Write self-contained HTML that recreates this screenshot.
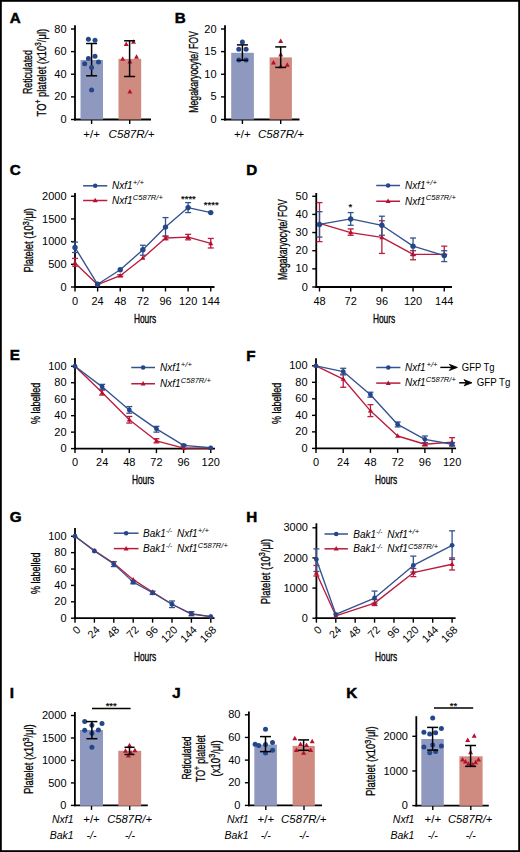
<!DOCTYPE html>
<html><head><meta charset="utf-8"><title>Figure</title>
<style>
html,body{margin:0;padding:0;background:#fff;}
body{width:520px;height:852px;overflow:hidden;position:relative;}
svg{position:absolute;left:0;top:0;font-family:"Liberation Sans", sans-serif;}
</style></head><body>
<svg width="520" height="852" viewBox="0 0 520 852">
<rect x="0" y="0" width="520" height="852" fill="#fff"/>
<text x="9.70" y="22.80" font-size="15.2" text-anchor="start" fill="#000" font-weight="bold" stroke="#000" stroke-width="0.5">A</text>
<line x1="75.00" y1="120.40" x2="75.00" y2="25.20" stroke="#000" stroke-width="1.8" stroke-linecap="butt"/>
<line x1="71.00" y1="119.50" x2="75.00" y2="119.50" stroke="#000" stroke-width="1.4" stroke-linecap="butt"/>
<text x="0.00" y="0.00" font-size="10.2" text-anchor="end" fill="#000"  transform="translate(66.60 123.10) scale(1.08 1)">0</text>
<line x1="71.00" y1="96.88" x2="75.00" y2="96.88" stroke="#000" stroke-width="1.4" stroke-linecap="butt"/>
<text x="0.00" y="0.00" font-size="10.2" text-anchor="end" fill="#000"  transform="translate(66.60 100.47) scale(1.08 1)">20</text>
<line x1="71.00" y1="74.25" x2="75.00" y2="74.25" stroke="#000" stroke-width="1.4" stroke-linecap="butt"/>
<text x="0.00" y="0.00" font-size="10.2" text-anchor="end" fill="#000"  transform="translate(66.60 77.85) scale(1.08 1)">40</text>
<line x1="71.00" y1="51.62" x2="75.00" y2="51.62" stroke="#000" stroke-width="1.4" stroke-linecap="butt"/>
<text x="0.00" y="0.00" font-size="10.2" text-anchor="end" fill="#000"  transform="translate(66.60 55.23) scale(1.08 1)">60</text>
<line x1="71.00" y1="29.00" x2="75.00" y2="29.00" stroke="#000" stroke-width="1.4" stroke-linecap="butt"/>
<text x="0.00" y="0.00" font-size="10.2" text-anchor="end" fill="#000"  transform="translate(66.60 32.60) scale(1.08 1)">80</text>
<line x1="74.10" y1="119.50" x2="151.00" y2="119.50" stroke="#000" stroke-width="1.8" stroke-linecap="butt"/>
<line x1="91.60" y1="119.50" x2="91.60" y2="124.00" stroke="#000" stroke-width="1.4" stroke-linecap="butt"/>
<line x1="129.70" y1="119.50" x2="129.70" y2="124.00" stroke="#000" stroke-width="1.4" stroke-linecap="butt"/>
<rect x="80.5" y="60" width="22.5" height="59.50" fill="#8f99bf"/>
<rect x="118.5" y="58.9" width="22.7" height="60.60" fill="#d08b80"/>
<line x1="91.60" y1="43.50" x2="91.60" y2="75.80" stroke="#000" stroke-width="1.5" stroke-linecap="butt"/>
<line x1="86.10" y1="43.50" x2="97.10" y2="43.50" stroke="#000" stroke-width="1.5" stroke-linecap="butt"/>
<line x1="86.10" y1="75.80" x2="97.10" y2="75.80" stroke="#000" stroke-width="1.5" stroke-linecap="butt"/>
<circle cx="88.40" cy="39.20" r="2.5" fill="#23478a"/>
<circle cx="95.00" cy="40.30" r="2.5" fill="#23478a"/>
<circle cx="88.40" cy="58.50" r="2.5" fill="#23478a"/>
<circle cx="95.00" cy="56.20" r="2.5" fill="#23478a"/>
<circle cx="84.70" cy="63.80" r="2.5" fill="#23478a"/>
<circle cx="98.50" cy="62.00" r="2.5" fill="#23478a"/>
<circle cx="91.60" cy="67.40" r="2.5" fill="#23478a"/>
<circle cx="91.60" cy="90.00" r="2.5" fill="#23478a"/>
<path d="M126.20 41.60 L128.70 46.10 L123.70 46.10 Z" fill="#b5102e"/>
<path d="M133.50 39.30 L136.00 43.80 L131.00 43.80 Z" fill="#b5102e"/>
<path d="M122.70 56.20 L125.20 60.70 L120.20 60.70 Z" fill="#b5102e"/>
<path d="M136.50 54.30 L139.00 58.80 L134.00 58.80 Z" fill="#b5102e"/>
<path d="M129.90 59.10 L132.40 63.60 L127.40 63.60 Z" fill="#b5102e"/>
<path d="M129.90 89.10 L132.40 93.60 L127.40 93.60 Z" fill="#b5102e"/>
<line x1="129.60" y1="40.80" x2="129.60" y2="76.50" stroke="#000" stroke-width="1.5" stroke-linecap="butt"/>
<line x1="124.10" y1="40.80" x2="135.10" y2="40.80" stroke="#000" stroke-width="1.5" stroke-linecap="butt"/>
<line x1="124.10" y1="76.50" x2="135.10" y2="76.50" stroke="#000" stroke-width="1.5" stroke-linecap="butt"/>
<text x="91.60" y="137.50" font-size="11.5" text-anchor="middle" fill="#000" >+/+</text>
<text x="108.60" y="137.50" font-size="10.5" text-anchor="start" fill="#000" font-style="italic" textLength="46.00" lengthAdjust="spacingAndGlyphs" >C587R/+</text>
<text x="0" y="0" font-size="13.5" text-anchor="middle" textLength="44.00" lengthAdjust="spacingAndGlyphs" stroke="#000" stroke-width="0.3" transform="translate(32.30 72.10) rotate(-90)">Reticulated</text>
<text x="0" y="0" font-size="13.3" text-anchor="middle" textLength="87.50" lengthAdjust="spacingAndGlyphs" stroke="#000" stroke-width="0.3" transform="translate(45.70 72.65) rotate(-90)">TO<tspan font-size="9.5" dy="-4.8">+</tspan><tspan dy="4.8"> platelet (x10</tspan><tspan font-size="9.5" dy="-4.8">3</tspan><tspan dy="4.8">/μl)</tspan></text>
<text x="174.70" y="22.80" font-size="15.2" text-anchor="start" fill="#000" font-weight="bold" stroke="#000" stroke-width="0.5">B</text>
<line x1="225.00" y1="120.40" x2="225.00" y2="25.20" stroke="#000" stroke-width="1.8" stroke-linecap="butt"/>
<line x1="221.00" y1="119.50" x2="225.00" y2="119.50" stroke="#000" stroke-width="1.4" stroke-linecap="butt"/>
<text x="0.00" y="0.00" font-size="10.2" text-anchor="end" fill="#000"  transform="translate(216.60 123.10) scale(1.08 1)">0</text>
<line x1="221.00" y1="96.88" x2="225.00" y2="96.88" stroke="#000" stroke-width="1.4" stroke-linecap="butt"/>
<text x="0.00" y="0.00" font-size="10.2" text-anchor="end" fill="#000"  transform="translate(216.60 100.47) scale(1.08 1)">5</text>
<line x1="221.00" y1="74.25" x2="225.00" y2="74.25" stroke="#000" stroke-width="1.4" stroke-linecap="butt"/>
<text x="0.00" y="0.00" font-size="10.2" text-anchor="end" fill="#000"  transform="translate(216.60 77.85) scale(1.08 1)">10</text>
<line x1="221.00" y1="51.62" x2="225.00" y2="51.62" stroke="#000" stroke-width="1.4" stroke-linecap="butt"/>
<text x="0.00" y="0.00" font-size="10.2" text-anchor="end" fill="#000"  transform="translate(216.60 55.23) scale(1.08 1)">15</text>
<line x1="221.00" y1="29.00" x2="225.00" y2="29.00" stroke="#000" stroke-width="1.4" stroke-linecap="butt"/>
<text x="0.00" y="0.00" font-size="10.2" text-anchor="end" fill="#000"  transform="translate(216.60 32.60) scale(1.08 1)">20</text>
<line x1="224.10" y1="119.50" x2="299.50" y2="119.50" stroke="#000" stroke-width="1.8" stroke-linecap="butt"/>
<line x1="242.40" y1="119.50" x2="242.40" y2="124.00" stroke="#000" stroke-width="1.4" stroke-linecap="butt"/>
<line x1="280.70" y1="119.50" x2="280.70" y2="124.00" stroke="#000" stroke-width="1.4" stroke-linecap="butt"/>
<rect x="231.2" y="52.8" width="22.7" height="66.70" fill="#8f99bf"/>
<rect x="269.6" y="57.4" width="22.3" height="62.10" fill="#d08b80"/>
<circle cx="242.40" cy="42.00" r="2.5" fill="#23478a"/>
<circle cx="238.80" cy="49.20" r="2.5" fill="#23478a"/>
<circle cx="246.10" cy="49.20" r="2.5" fill="#23478a"/>
<circle cx="238.80" cy="60.00" r="2.5" fill="#23478a"/>
<circle cx="246.10" cy="60.00" r="2.5" fill="#23478a"/>
<line x1="242.40" y1="44.90" x2="242.40" y2="60.30" stroke="#000" stroke-width="1.5" stroke-linecap="butt"/>
<line x1="236.90" y1="44.90" x2="247.90" y2="44.90" stroke="#000" stroke-width="1.5" stroke-linecap="butt"/>
<line x1="236.90" y1="60.30" x2="247.90" y2="60.30" stroke="#000" stroke-width="1.5" stroke-linecap="butt"/>
<path d="M280.70 38.50 L283.20 43.00 L278.20 43.00 Z" fill="#b5102e"/>
<path d="M280.70 51.90 L283.20 56.40 L278.20 56.40 Z" fill="#b5102e"/>
<path d="M273.50 59.90 L276.00 64.40 L271.00 64.40 Z" fill="#b5102e"/>
<path d="M287.30 62.30 L289.80 66.80 L284.80 66.80 Z" fill="#b5102e"/>
<path d="M280.70 63.80 L283.20 68.30 L278.20 68.30 Z" fill="#b5102e"/>
<line x1="280.70" y1="46.90" x2="280.70" y2="67.40" stroke="#000" stroke-width="1.5" stroke-linecap="butt"/>
<line x1="275.20" y1="46.90" x2="286.20" y2="46.90" stroke="#000" stroke-width="1.5" stroke-linecap="butt"/>
<line x1="275.20" y1="67.40" x2="286.20" y2="67.40" stroke="#000" stroke-width="1.5" stroke-linecap="butt"/>
<text x="242.40" y="137.50" font-size="11.5" text-anchor="middle" fill="#000" >+/+</text>
<text x="258.00" y="137.50" font-size="10.5" text-anchor="start" fill="#000" font-style="italic" textLength="46.00" lengthAdjust="spacingAndGlyphs" >C587R/+</text>
<text x="0" y="0" font-size="12.8" text-anchor="middle" textLength="81.50" lengthAdjust="spacingAndGlyphs" stroke="#000" stroke-width="0.3" transform="translate(197.60 71.95) rotate(-90)">Megakaryocyte/ FOV</text>
<text x="9.70" y="174.80" font-size="15.2" text-anchor="start" fill="#000" font-weight="bold" stroke="#000" stroke-width="0.5">C</text>
<line x1="75.00" y1="287.90" x2="75.00" y2="193.00" stroke="#000" stroke-width="1.8" stroke-linecap="butt"/>
<line x1="71.00" y1="287.00" x2="75.00" y2="287.00" stroke="#000" stroke-width="1.4" stroke-linecap="butt"/>
<text x="0.00" y="0.00" font-size="10.2" text-anchor="end" fill="#000"  transform="translate(66.60 290.60) scale(1.08 1)">0</text>
<line x1="71.00" y1="264.31" x2="75.00" y2="264.31" stroke="#000" stroke-width="1.4" stroke-linecap="butt"/>
<text x="0.00" y="0.00" font-size="10.2" text-anchor="end" fill="#000"  transform="translate(66.60 267.91) scale(1.08 1)">500</text>
<line x1="71.00" y1="241.62" x2="75.00" y2="241.62" stroke="#000" stroke-width="1.4" stroke-linecap="butt"/>
<text x="0.00" y="0.00" font-size="10.2" text-anchor="end" fill="#000"  transform="translate(66.60 245.22) scale(1.08 1)">1000</text>
<line x1="71.00" y1="218.94" x2="75.00" y2="218.94" stroke="#000" stroke-width="1.4" stroke-linecap="butt"/>
<text x="0.00" y="0.00" font-size="10.2" text-anchor="end" fill="#000"  transform="translate(66.60 222.54) scale(1.08 1)">1500</text>
<line x1="71.00" y1="196.25" x2="75.00" y2="196.25" stroke="#000" stroke-width="1.4" stroke-linecap="butt"/>
<text x="0.00" y="0.00" font-size="10.2" text-anchor="end" fill="#000"  transform="translate(66.60 199.85) scale(1.08 1)">2000</text>
<line x1="74.10" y1="287.00" x2="214.50" y2="287.00" stroke="#000" stroke-width="1.8" stroke-linecap="butt"/>
<line x1="75.00" y1="287.00" x2="75.00" y2="291.50" stroke="#000" stroke-width="1.4" stroke-linecap="butt"/>
<text x="0.00" y="0.00" font-size="10" text-anchor="middle" fill="#000"  transform="translate(75.00 304.50) scale(1.1 1)">0</text>
<line x1="97.62" y1="287.00" x2="97.62" y2="291.50" stroke="#000" stroke-width="1.4" stroke-linecap="butt"/>
<text x="0.00" y="0.00" font-size="10" text-anchor="middle" fill="#000"  transform="translate(97.62 304.50) scale(1.1 1)">24</text>
<line x1="120.25" y1="287.00" x2="120.25" y2="291.50" stroke="#000" stroke-width="1.4" stroke-linecap="butt"/>
<text x="0.00" y="0.00" font-size="10" text-anchor="middle" fill="#000"  transform="translate(120.25 304.50) scale(1.1 1)">48</text>
<line x1="142.88" y1="287.00" x2="142.88" y2="291.50" stroke="#000" stroke-width="1.4" stroke-linecap="butt"/>
<text x="0.00" y="0.00" font-size="10" text-anchor="middle" fill="#000"  transform="translate(142.88 304.50) scale(1.1 1)">72</text>
<line x1="165.50" y1="287.00" x2="165.50" y2="291.50" stroke="#000" stroke-width="1.4" stroke-linecap="butt"/>
<text x="0.00" y="0.00" font-size="10" text-anchor="middle" fill="#000"  transform="translate(165.50 304.50) scale(1.1 1)">96</text>
<line x1="188.12" y1="287.00" x2="188.12" y2="291.50" stroke="#000" stroke-width="1.4" stroke-linecap="butt"/>
<text x="0.00" y="0.00" font-size="10" text-anchor="middle" fill="#000"  transform="translate(188.12 304.50) scale(1.1 1)">120</text>
<line x1="210.75" y1="287.00" x2="210.75" y2="291.50" stroke="#000" stroke-width="1.4" stroke-linecap="butt"/>
<text x="0.00" y="0.00" font-size="10" text-anchor="middle" fill="#000"  transform="translate(210.75 304.50) scale(1.1 1)">144</text>
<line x1="75.00" y1="242.08" x2="75.00" y2="252.51" stroke="#33528f" stroke-width="1.3" stroke-linecap="butt"/>
<line x1="72.00" y1="242.08" x2="78.00" y2="242.08" stroke="#33528f" stroke-width="1.3" stroke-linecap="butt"/>
<line x1="72.00" y1="252.51" x2="78.00" y2="252.51" stroke="#33528f" stroke-width="1.3" stroke-linecap="butt"/>
<line x1="142.88" y1="245.25" x2="142.88" y2="255.24" stroke="#33528f" stroke-width="1.3" stroke-linecap="butt"/>
<line x1="139.88" y1="245.25" x2="145.88" y2="245.25" stroke="#33528f" stroke-width="1.3" stroke-linecap="butt"/>
<line x1="139.88" y1="255.24" x2="145.88" y2="255.24" stroke="#33528f" stroke-width="1.3" stroke-linecap="butt"/>
<line x1="165.50" y1="217.58" x2="165.50" y2="236.18" stroke="#33528f" stroke-width="1.3" stroke-linecap="butt"/>
<line x1="162.50" y1="217.58" x2="168.50" y2="217.58" stroke="#33528f" stroke-width="1.3" stroke-linecap="butt"/>
<line x1="162.50" y1="236.18" x2="168.50" y2="236.18" stroke="#33528f" stroke-width="1.3" stroke-linecap="butt"/>
<line x1="188.12" y1="202.60" x2="188.12" y2="212.58" stroke="#33528f" stroke-width="1.3" stroke-linecap="butt"/>
<line x1="185.12" y1="202.60" x2="191.12" y2="202.60" stroke="#33528f" stroke-width="1.3" stroke-linecap="butt"/>
<line x1="185.12" y1="212.58" x2="191.12" y2="212.58" stroke="#33528f" stroke-width="1.3" stroke-linecap="butt"/>
<line x1="75.00" y1="258.41" x2="75.00" y2="266.13" stroke="#b91c3c" stroke-width="1.3" stroke-linecap="butt"/>
<line x1="72.00" y1="258.41" x2="78.00" y2="258.41" stroke="#b91c3c" stroke-width="1.3" stroke-linecap="butt"/>
<line x1="72.00" y1="266.13" x2="78.00" y2="266.13" stroke="#b91c3c" stroke-width="1.3" stroke-linecap="butt"/>
<line x1="165.50" y1="236.18" x2="165.50" y2="239.81" stroke="#b91c3c" stroke-width="1.3" stroke-linecap="butt"/>
<line x1="162.50" y1="236.18" x2="168.50" y2="236.18" stroke="#b91c3c" stroke-width="1.3" stroke-linecap="butt"/>
<line x1="162.50" y1="239.81" x2="168.50" y2="239.81" stroke="#b91c3c" stroke-width="1.3" stroke-linecap="butt"/>
<line x1="188.12" y1="234.37" x2="188.12" y2="239.81" stroke="#b91c3c" stroke-width="1.3" stroke-linecap="butt"/>
<line x1="185.12" y1="234.37" x2="191.12" y2="234.37" stroke="#b91c3c" stroke-width="1.3" stroke-linecap="butt"/>
<line x1="185.12" y1="239.81" x2="191.12" y2="239.81" stroke="#b91c3c" stroke-width="1.3" stroke-linecap="butt"/>
<line x1="210.75" y1="238.45" x2="210.75" y2="247.98" stroke="#b91c3c" stroke-width="1.3" stroke-linecap="butt"/>
<line x1="207.75" y1="238.45" x2="213.75" y2="238.45" stroke="#b91c3c" stroke-width="1.3" stroke-linecap="butt"/>
<line x1="207.75" y1="247.98" x2="213.75" y2="247.98" stroke="#b91c3c" stroke-width="1.3" stroke-linecap="butt"/>
<line x1="120.25" y1="274.75" x2="120.25" y2="276.56" stroke="#b91c3c" stroke-width="1.3" stroke-linecap="butt"/>
<line x1="117.25" y1="274.75" x2="123.25" y2="274.75" stroke="#b91c3c" stroke-width="1.3" stroke-linecap="butt"/>
<line x1="117.25" y1="276.56" x2="123.25" y2="276.56" stroke="#b91c3c" stroke-width="1.3" stroke-linecap="butt"/>
<polyline points="75.00,262.95 97.62,284.73 120.25,275.66 142.88,257.96 165.50,238.00 188.12,237.09 210.75,243.44" fill="none" stroke="#b91c3c" stroke-width="1.35" stroke-linejoin="round"/>
<polyline points="75.00,247.52 97.62,284.28 120.25,269.76 142.88,249.79 165.50,227.10 188.12,207.59 210.75,212.58" fill="none" stroke="#33528f" stroke-width="1.35" stroke-linejoin="round"/>
<path d="M75.00 260.25 L77.50 264.75 L72.50 264.75 Z" fill="#b5102e"/>
<path d="M97.62 282.03 L100.12 286.53 L95.12 286.53 Z" fill="#b5102e"/>
<path d="M120.25 272.96 L122.75 277.46 L117.75 277.46 Z" fill="#b5102e"/>
<path d="M142.88 255.26 L145.38 259.76 L140.38 259.76 Z" fill="#b5102e"/>
<path d="M165.50 235.30 L168.00 239.80 L163.00 239.80 Z" fill="#b5102e"/>
<path d="M188.12 234.39 L190.62 238.89 L185.62 238.89 Z" fill="#b5102e"/>
<path d="M210.75 240.74 L213.25 245.24 L208.25 245.24 Z" fill="#b5102e"/>
<circle cx="75.00" cy="247.52" r="2.7" fill="#23478a"/>
<circle cx="97.62" cy="284.28" r="2.7" fill="#23478a"/>
<circle cx="120.25" cy="269.76" r="2.7" fill="#23478a"/>
<circle cx="142.88" cy="249.79" r="2.7" fill="#23478a"/>
<circle cx="165.50" cy="227.10" r="2.7" fill="#23478a"/>
<circle cx="188.12" cy="207.59" r="2.7" fill="#23478a"/>
<circle cx="210.75" cy="212.58" r="2.7" fill="#23478a"/>
<text x="188.40" y="202.00" font-size="9.5" text-anchor="middle" fill="#000" stroke="#000" stroke-width="0.2">****</text>
<text x="211.20" y="208.20" font-size="9.5" text-anchor="middle" fill="#000" stroke="#000" stroke-width="0.2">****</text>
<text x="145.00" y="323.00" font-size="13" text-anchor="middle" fill="#000" textLength="22.20" lengthAdjust="spacingAndGlyphs" stroke="#000" stroke-width="0.35">Hours</text>
<text x="0" y="0" font-size="12.3" text-anchor="middle" textLength="64.60" lengthAdjust="spacingAndGlyphs" stroke="#000" stroke-width="0.3" transform="translate(33.30 240.30) rotate(-90)">Platelet (10<tspan font-size="9.5" dy="-4.8">3</tspan><tspan dy="4.8">/μl)</tspan></text>
<line x1="83.10" y1="185.80" x2="107.30" y2="185.80" stroke="#33528f" stroke-width="1.5" stroke-linecap="butt"/>
<circle cx="95.20" cy="185.80" r="2.3" fill="#23478a"/>
<line x1="83.10" y1="200.50" x2="107.30" y2="200.50" stroke="#b91c3c" stroke-width="1.5" stroke-linecap="butt"/>
<path d="M95.20 197.80 L97.70 202.30 L92.70 202.30 Z" fill="#b5102e"/>
<text x="112.00" y="189.20" font-size="10" text-anchor="start" fill="#000" font-style="italic" >Nxf1</text>
<text x="132.80" y="185.40" font-size="8" text-anchor="start" fill="#000" font-style="italic" textLength="11.10" lengthAdjust="spacingAndGlyphs" >+/+</text>
<text x="112.00" y="204.00" font-size="10" text-anchor="start" fill="#000" font-style="italic" >Nxf1</text>
<text x="132.80" y="200.30" font-size="7.3" text-anchor="start" fill="#000" font-style="italic" textLength="30.00" lengthAdjust="spacingAndGlyphs" >C587R/+</text>
<text x="246.20" y="175.40" font-size="15.2" text-anchor="start" fill="#000" font-weight="bold" stroke="#000" stroke-width="0.5">D</text>
<line x1="316.25" y1="287.90" x2="316.25" y2="193.00" stroke="#000" stroke-width="1.8" stroke-linecap="butt"/>
<line x1="312.25" y1="287.00" x2="316.25" y2="287.00" stroke="#000" stroke-width="1.4" stroke-linecap="butt"/>
<text x="0.00" y="0.00" font-size="10.2" text-anchor="end" fill="#000"  transform="translate(307.85 290.60) scale(1.08 1)">0</text>
<line x1="312.25" y1="268.85" x2="316.25" y2="268.85" stroke="#000" stroke-width="1.4" stroke-linecap="butt"/>
<text x="0.00" y="0.00" font-size="10.2" text-anchor="end" fill="#000"  transform="translate(307.85 272.45) scale(1.08 1)">10</text>
<line x1="312.25" y1="250.70" x2="316.25" y2="250.70" stroke="#000" stroke-width="1.4" stroke-linecap="butt"/>
<text x="0.00" y="0.00" font-size="10.2" text-anchor="end" fill="#000"  transform="translate(307.85 254.30) scale(1.08 1)">20</text>
<line x1="312.25" y1="232.55" x2="316.25" y2="232.55" stroke="#000" stroke-width="1.4" stroke-linecap="butt"/>
<text x="0.00" y="0.00" font-size="10.2" text-anchor="end" fill="#000"  transform="translate(307.85 236.15) scale(1.08 1)">30</text>
<line x1="312.25" y1="214.40" x2="316.25" y2="214.40" stroke="#000" stroke-width="1.4" stroke-linecap="butt"/>
<text x="0.00" y="0.00" font-size="10.2" text-anchor="end" fill="#000"  transform="translate(307.85 218.00) scale(1.08 1)">40</text>
<line x1="312.25" y1="196.25" x2="316.25" y2="196.25" stroke="#000" stroke-width="1.4" stroke-linecap="butt"/>
<text x="0.00" y="0.00" font-size="10.2" text-anchor="end" fill="#000"  transform="translate(307.85 199.85) scale(1.08 1)">50</text>
<line x1="315.35" y1="287.00" x2="452.00" y2="287.00" stroke="#000" stroke-width="1.8" stroke-linecap="butt"/>
<line x1="319.50" y1="287.00" x2="319.50" y2="291.50" stroke="#000" stroke-width="1.4" stroke-linecap="butt"/>
<text x="0.00" y="0.00" font-size="10" text-anchor="middle" fill="#000"  transform="translate(319.50 304.50) scale(1.1 1)">48</text>
<line x1="350.69" y1="287.00" x2="350.69" y2="291.50" stroke="#000" stroke-width="1.4" stroke-linecap="butt"/>
<text x="0.00" y="0.00" font-size="10" text-anchor="middle" fill="#000"  transform="translate(350.69 304.50) scale(1.1 1)">72</text>
<line x1="381.88" y1="287.00" x2="381.88" y2="291.50" stroke="#000" stroke-width="1.4" stroke-linecap="butt"/>
<text x="0.00" y="0.00" font-size="10" text-anchor="middle" fill="#000"  transform="translate(381.88 304.50) scale(1.1 1)">96</text>
<line x1="413.06" y1="287.00" x2="413.06" y2="291.50" stroke="#000" stroke-width="1.4" stroke-linecap="butt"/>
<text x="0.00" y="0.00" font-size="10" text-anchor="middle" fill="#000"  transform="translate(413.06 304.50) scale(1.1 1)">120</text>
<line x1="444.25" y1="287.00" x2="444.25" y2="291.50" stroke="#000" stroke-width="1.4" stroke-linecap="butt"/>
<text x="0.00" y="0.00" font-size="10" text-anchor="middle" fill="#000"  transform="translate(444.25 304.50) scale(1.1 1)">144</text>
<line x1="319.50" y1="202.60" x2="319.50" y2="241.62" stroke="#b91c3c" stroke-width="1.3" stroke-linecap="butt"/>
<line x1="316.50" y1="202.60" x2="322.50" y2="202.60" stroke="#b91c3c" stroke-width="1.3" stroke-linecap="butt"/>
<line x1="316.50" y1="241.62" x2="322.50" y2="241.62" stroke="#b91c3c" stroke-width="1.3" stroke-linecap="butt"/>
<line x1="350.69" y1="228.92" x2="350.69" y2="235.27" stroke="#b91c3c" stroke-width="1.3" stroke-linecap="butt"/>
<line x1="347.69" y1="228.92" x2="353.69" y2="228.92" stroke="#b91c3c" stroke-width="1.3" stroke-linecap="butt"/>
<line x1="347.69" y1="235.27" x2="353.69" y2="235.27" stroke="#b91c3c" stroke-width="1.3" stroke-linecap="butt"/>
<line x1="381.88" y1="220.75" x2="381.88" y2="253.42" stroke="#b91c3c" stroke-width="1.3" stroke-linecap="butt"/>
<line x1="378.88" y1="220.75" x2="384.88" y2="220.75" stroke="#b91c3c" stroke-width="1.3" stroke-linecap="butt"/>
<line x1="378.88" y1="253.42" x2="384.88" y2="253.42" stroke="#b91c3c" stroke-width="1.3" stroke-linecap="butt"/>
<line x1="413.06" y1="250.70" x2="413.06" y2="259.77" stroke="#b91c3c" stroke-width="1.3" stroke-linecap="butt"/>
<line x1="410.06" y1="250.70" x2="416.06" y2="250.70" stroke="#b91c3c" stroke-width="1.3" stroke-linecap="butt"/>
<line x1="410.06" y1="259.77" x2="416.06" y2="259.77" stroke="#b91c3c" stroke-width="1.3" stroke-linecap="butt"/>
<line x1="444.25" y1="246.16" x2="444.25" y2="254.33" stroke="#b91c3c" stroke-width="1.3" stroke-linecap="butt"/>
<line x1="441.25" y1="246.16" x2="447.25" y2="246.16" stroke="#b91c3c" stroke-width="1.3" stroke-linecap="butt"/>
<line x1="441.25" y1="254.33" x2="447.25" y2="254.33" stroke="#b91c3c" stroke-width="1.3" stroke-linecap="butt"/>
<line x1="319.50" y1="211.68" x2="319.50" y2="237.09" stroke="#33528f" stroke-width="1.3" stroke-linecap="butt"/>
<line x1="316.50" y1="211.68" x2="322.50" y2="211.68" stroke="#33528f" stroke-width="1.3" stroke-linecap="butt"/>
<line x1="316.50" y1="237.09" x2="322.50" y2="237.09" stroke="#33528f" stroke-width="1.3" stroke-linecap="butt"/>
<line x1="350.69" y1="212.58" x2="350.69" y2="225.29" stroke="#33528f" stroke-width="1.3" stroke-linecap="butt"/>
<line x1="347.69" y1="212.58" x2="353.69" y2="212.58" stroke="#33528f" stroke-width="1.3" stroke-linecap="butt"/>
<line x1="347.69" y1="225.29" x2="353.69" y2="225.29" stroke="#33528f" stroke-width="1.3" stroke-linecap="butt"/>
<line x1="381.88" y1="216.22" x2="381.88" y2="235.27" stroke="#33528f" stroke-width="1.3" stroke-linecap="butt"/>
<line x1="378.88" y1="216.22" x2="384.88" y2="216.22" stroke="#33528f" stroke-width="1.3" stroke-linecap="butt"/>
<line x1="378.88" y1="235.27" x2="384.88" y2="235.27" stroke="#33528f" stroke-width="1.3" stroke-linecap="butt"/>
<line x1="413.06" y1="238.00" x2="413.06" y2="255.24" stroke="#33528f" stroke-width="1.3" stroke-linecap="butt"/>
<line x1="410.06" y1="238.00" x2="416.06" y2="238.00" stroke="#33528f" stroke-width="1.3" stroke-linecap="butt"/>
<line x1="410.06" y1="255.24" x2="416.06" y2="255.24" stroke="#33528f" stroke-width="1.3" stroke-linecap="butt"/>
<line x1="444.25" y1="250.70" x2="444.25" y2="261.59" stroke="#33528f" stroke-width="1.3" stroke-linecap="butt"/>
<line x1="441.25" y1="250.70" x2="447.25" y2="250.70" stroke="#33528f" stroke-width="1.3" stroke-linecap="butt"/>
<line x1="441.25" y1="261.59" x2="447.25" y2="261.59" stroke="#33528f" stroke-width="1.3" stroke-linecap="butt"/>
<polyline points="319.50,223.47 350.69,232.55 381.88,237.45 413.06,254.33 444.25,254.33" fill="none" stroke="#b91c3c" stroke-width="1.35" stroke-linejoin="round"/>
<polyline points="319.50,224.38 350.69,218.94 381.88,225.29 413.06,246.16 444.25,255.60" fill="none" stroke="#33528f" stroke-width="1.35" stroke-linejoin="round"/>
<path d="M319.50 220.78 L322.00 225.28 L317.00 225.28 Z" fill="#b5102e"/>
<path d="M350.69 229.85 L353.19 234.35 L348.19 234.35 Z" fill="#b5102e"/>
<path d="M381.88 234.75 L384.38 239.25 L379.38 239.25 Z" fill="#b5102e"/>
<path d="M413.06 251.63 L415.56 256.13 L410.56 256.13 Z" fill="#b5102e"/>
<path d="M444.25 251.63 L446.75 256.13 L441.75 256.13 Z" fill="#b5102e"/>
<circle cx="319.50" cy="224.38" r="2.7" fill="#23478a"/>
<circle cx="350.69" cy="218.94" r="2.7" fill="#23478a"/>
<circle cx="381.88" cy="225.29" r="2.7" fill="#23478a"/>
<circle cx="413.06" cy="246.16" r="2.7" fill="#23478a"/>
<circle cx="444.25" cy="255.60" r="2.7" fill="#23478a"/>
<text x="350.40" y="209.50" font-size="9.5" text-anchor="middle" fill="#000" stroke="#000" stroke-width="0.2">*</text>
<text x="384.00" y="323.00" font-size="13" text-anchor="middle" fill="#000" textLength="22.20" lengthAdjust="spacingAndGlyphs" stroke="#000" stroke-width="0.35">Hours</text>
<text x="0" y="0" font-size="12.8" text-anchor="middle" textLength="80.80" lengthAdjust="spacingAndGlyphs" stroke="#000" stroke-width="0.3" transform="translate(286.90 239.60) rotate(-90)">Megakaryocyte/ FOV</text>
<line x1="376.25" y1="185.50" x2="400.00" y2="185.50" stroke="#33528f" stroke-width="1.5" stroke-linecap="butt"/>
<circle cx="388.12" cy="185.50" r="2.3" fill="#23478a"/>
<line x1="376.25" y1="201.25" x2="400.00" y2="201.25" stroke="#b91c3c" stroke-width="1.5" stroke-linecap="butt"/>
<path d="M388.12 198.55 L390.62 203.05 L385.62 203.05 Z" fill="#b5102e"/>
<text x="405.00" y="189.00" font-size="10" text-anchor="start" fill="#000" font-style="italic" >Nxf1</text>
<text x="425.80" y="185.20" font-size="8" text-anchor="start" fill="#000" font-style="italic" textLength="11.10" lengthAdjust="spacingAndGlyphs" >+/+</text>
<text x="405.00" y="204.70" font-size="10" text-anchor="start" fill="#000" font-style="italic" >Nxf1</text>
<text x="425.80" y="200.10" font-size="7.3" text-anchor="start" fill="#000" font-style="italic" textLength="30.00" lengthAdjust="spacingAndGlyphs" >C587R/+</text>
<text x="9.70" y="360.30" font-size="15.2" text-anchor="start" fill="#000" font-weight="bold" stroke="#000" stroke-width="0.5">E</text>
<line x1="75.00" y1="449.50" x2="75.00" y2="358.00" stroke="#000" stroke-width="1.8" stroke-linecap="butt"/>
<line x1="71.00" y1="448.60" x2="75.00" y2="448.60" stroke="#000" stroke-width="1.4" stroke-linecap="butt"/>
<text x="0.00" y="0.00" font-size="10.2" text-anchor="end" fill="#000"  transform="translate(66.60 452.20) scale(1.08 1)">0</text>
<line x1="71.00" y1="432.13" x2="75.00" y2="432.13" stroke="#000" stroke-width="1.4" stroke-linecap="butt"/>
<text x="0.00" y="0.00" font-size="10.2" text-anchor="end" fill="#000"  transform="translate(66.60 435.73) scale(1.08 1)">20</text>
<line x1="71.00" y1="415.66" x2="75.00" y2="415.66" stroke="#000" stroke-width="1.4" stroke-linecap="butt"/>
<text x="0.00" y="0.00" font-size="10.2" text-anchor="end" fill="#000"  transform="translate(66.60 419.26) scale(1.08 1)">40</text>
<line x1="71.00" y1="399.19" x2="75.00" y2="399.19" stroke="#000" stroke-width="1.4" stroke-linecap="butt"/>
<text x="0.00" y="0.00" font-size="10.2" text-anchor="end" fill="#000"  transform="translate(66.60 402.79) scale(1.08 1)">60</text>
<line x1="71.00" y1="382.72" x2="75.00" y2="382.72" stroke="#000" stroke-width="1.4" stroke-linecap="butt"/>
<text x="0.00" y="0.00" font-size="10.2" text-anchor="end" fill="#000"  transform="translate(66.60 386.32) scale(1.08 1)">80</text>
<line x1="71.00" y1="366.25" x2="75.00" y2="366.25" stroke="#000" stroke-width="1.4" stroke-linecap="butt"/>
<text x="0.00" y="0.00" font-size="10.2" text-anchor="end" fill="#000"  transform="translate(66.60 369.85) scale(1.08 1)">100</text>
<line x1="74.10" y1="448.60" x2="215.00" y2="448.60" stroke="#000" stroke-width="1.8" stroke-linecap="butt"/>
<line x1="75.00" y1="448.60" x2="75.00" y2="453.10" stroke="#000" stroke-width="1.4" stroke-linecap="butt"/>
<text x="0.00" y="0.00" font-size="10" text-anchor="middle" fill="#000"  transform="translate(75.00 466.10) scale(1.1 1)">0</text>
<line x1="102.15" y1="448.60" x2="102.15" y2="453.10" stroke="#000" stroke-width="1.4" stroke-linecap="butt"/>
<text x="0.00" y="0.00" font-size="10" text-anchor="middle" fill="#000"  transform="translate(102.15 466.10) scale(1.1 1)">24</text>
<line x1="129.30" y1="448.60" x2="129.30" y2="453.10" stroke="#000" stroke-width="1.4" stroke-linecap="butt"/>
<text x="0.00" y="0.00" font-size="10" text-anchor="middle" fill="#000"  transform="translate(129.30 466.10) scale(1.1 1)">48</text>
<line x1="156.45" y1="448.60" x2="156.45" y2="453.10" stroke="#000" stroke-width="1.4" stroke-linecap="butt"/>
<text x="0.00" y="0.00" font-size="10" text-anchor="middle" fill="#000"  transform="translate(156.45 466.10) scale(1.1 1)">72</text>
<line x1="183.60" y1="448.60" x2="183.60" y2="453.10" stroke="#000" stroke-width="1.4" stroke-linecap="butt"/>
<text x="0.00" y="0.00" font-size="10" text-anchor="middle" fill="#000"  transform="translate(183.60 466.10) scale(1.1 1)">96</text>
<line x1="210.75" y1="448.60" x2="210.75" y2="453.10" stroke="#000" stroke-width="1.4" stroke-linecap="butt"/>
<text x="0.00" y="0.00" font-size="10" text-anchor="middle" fill="#000"  transform="translate(210.75 466.10) scale(1.1 1)">120</text>
<line x1="102.15" y1="390.13" x2="102.15" y2="395.07" stroke="#b91c3c" stroke-width="1.3" stroke-linecap="butt"/>
<line x1="99.15" y1="390.13" x2="105.15" y2="390.13" stroke="#b91c3c" stroke-width="1.3" stroke-linecap="butt"/>
<line x1="99.15" y1="395.07" x2="105.15" y2="395.07" stroke="#b91c3c" stroke-width="1.3" stroke-linecap="butt"/>
<line x1="129.30" y1="416.48" x2="129.30" y2="423.07" stroke="#b91c3c" stroke-width="1.3" stroke-linecap="butt"/>
<line x1="126.30" y1="416.48" x2="132.30" y2="416.48" stroke="#b91c3c" stroke-width="1.3" stroke-linecap="butt"/>
<line x1="126.30" y1="423.07" x2="132.30" y2="423.07" stroke="#b91c3c" stroke-width="1.3" stroke-linecap="butt"/>
<line x1="156.45" y1="438.72" x2="156.45" y2="442.84" stroke="#b91c3c" stroke-width="1.3" stroke-linecap="butt"/>
<line x1="153.45" y1="438.72" x2="159.45" y2="438.72" stroke="#b91c3c" stroke-width="1.3" stroke-linecap="butt"/>
<line x1="153.45" y1="442.84" x2="159.45" y2="442.84" stroke="#b91c3c" stroke-width="1.3" stroke-linecap="butt"/>
<line x1="102.15" y1="384.37" x2="102.15" y2="389.31" stroke="#33528f" stroke-width="1.3" stroke-linecap="butt"/>
<line x1="99.15" y1="384.37" x2="105.15" y2="384.37" stroke="#33528f" stroke-width="1.3" stroke-linecap="butt"/>
<line x1="99.15" y1="389.31" x2="105.15" y2="389.31" stroke="#33528f" stroke-width="1.3" stroke-linecap="butt"/>
<line x1="129.30" y1="406.60" x2="129.30" y2="413.19" stroke="#33528f" stroke-width="1.3" stroke-linecap="butt"/>
<line x1="126.30" y1="406.60" x2="132.30" y2="406.60" stroke="#33528f" stroke-width="1.3" stroke-linecap="butt"/>
<line x1="126.30" y1="413.19" x2="132.30" y2="413.19" stroke="#33528f" stroke-width="1.3" stroke-linecap="butt"/>
<line x1="156.45" y1="426.37" x2="156.45" y2="432.13" stroke="#33528f" stroke-width="1.3" stroke-linecap="butt"/>
<line x1="153.45" y1="426.37" x2="159.45" y2="426.37" stroke="#33528f" stroke-width="1.3" stroke-linecap="butt"/>
<line x1="153.45" y1="432.13" x2="159.45" y2="432.13" stroke="#33528f" stroke-width="1.3" stroke-linecap="butt"/>
<line x1="183.60" y1="444.48" x2="183.60" y2="446.13" stroke="#33528f" stroke-width="1.3" stroke-linecap="butt"/>
<line x1="180.60" y1="444.48" x2="186.60" y2="444.48" stroke="#33528f" stroke-width="1.3" stroke-linecap="butt"/>
<line x1="180.60" y1="446.13" x2="186.60" y2="446.13" stroke="#33528f" stroke-width="1.3" stroke-linecap="butt"/>
<polyline points="75.00,366.25 102.15,392.60 129.30,419.78 156.45,440.78 183.60,448.19 210.75,448.19" fill="none" stroke="#b91c3c" stroke-width="1.35" stroke-linejoin="round"/>
<polyline points="75.00,366.25 102.15,386.84 129.30,409.90 156.45,428.84 183.60,445.31 210.75,447.78" fill="none" stroke="#33528f" stroke-width="1.35" stroke-linejoin="round"/>
<path d="M75.00 363.55 L77.50 368.05 L72.50 368.05 Z" fill="#b5102e"/>
<path d="M102.15 389.90 L104.65 394.40 L99.65 394.40 Z" fill="#b5102e"/>
<path d="M129.30 417.08 L131.80 421.58 L126.80 421.58 Z" fill="#b5102e"/>
<path d="M156.45 438.08 L158.95 442.58 L153.95 442.58 Z" fill="#b5102e"/>
<path d="M183.60 445.49 L186.10 449.99 L181.10 449.99 Z" fill="#b5102e"/>
<path d="M210.75 445.49 L213.25 449.99 L208.25 449.99 Z" fill="#b5102e"/>
<circle cx="75.00" cy="366.25" r="2.4" fill="#23478a"/>
<circle cx="102.15" cy="386.84" r="2.4" fill="#23478a"/>
<circle cx="129.30" cy="409.90" r="2.4" fill="#23478a"/>
<circle cx="156.45" cy="428.84" r="2.4" fill="#23478a"/>
<circle cx="183.60" cy="445.31" r="2.4" fill="#23478a"/>
<circle cx="210.75" cy="447.78" r="2.4" fill="#23478a"/>
<text x="143.00" y="483.60" font-size="13" text-anchor="middle" fill="#000" textLength="22.20" lengthAdjust="spacingAndGlyphs" stroke="#000" stroke-width="0.35">Hours</text>
<text x="0" y="0" font-size="12.3" text-anchor="middle" textLength="41.30" lengthAdjust="spacingAndGlyphs" stroke="#000" stroke-width="0.3" transform="translate(39.70 403.35) rotate(-90)">% labelled</text>
<line x1="131.25" y1="367.50" x2="155.00" y2="367.50" stroke="#33528f" stroke-width="1.5" stroke-linecap="butt"/>
<circle cx="143.12" cy="367.50" r="2.3" fill="#23478a"/>
<line x1="131.25" y1="383.75" x2="155.00" y2="383.75" stroke="#b91c3c" stroke-width="1.5" stroke-linecap="butt"/>
<path d="M143.12 381.05 L145.62 385.55 L140.62 385.55 Z" fill="#b5102e"/>
<text x="160.00" y="371.00" font-size="10" text-anchor="start" fill="#000" font-style="italic" >Nxf1</text>
<text x="180.80" y="367.20" font-size="8" text-anchor="start" fill="#000" font-style="italic" textLength="11.10" lengthAdjust="spacingAndGlyphs" >+/+</text>
<text x="160.00" y="387.00" font-size="10" text-anchor="start" fill="#000" font-style="italic" >Nxf1</text>
<text x="180.80" y="383.10" font-size="7.3" text-anchor="start" fill="#000" font-style="italic" textLength="30.00" lengthAdjust="spacingAndGlyphs" >C587R/+</text>
<text x="246.20" y="360.60" font-size="15.2" text-anchor="start" fill="#000" font-weight="bold" stroke="#000" stroke-width="0.5">F</text>
<line x1="316.00" y1="449.30" x2="316.00" y2="358.30" stroke="#000" stroke-width="1.8" stroke-linecap="butt"/>
<line x1="312.00" y1="448.40" x2="316.00" y2="448.40" stroke="#000" stroke-width="1.4" stroke-linecap="butt"/>
<text x="0.00" y="0.00" font-size="10.2" text-anchor="end" fill="#000"  transform="translate(307.60 452.00) scale(1.08 1)">0</text>
<line x1="312.00" y1="431.88" x2="316.00" y2="431.88" stroke="#000" stroke-width="1.4" stroke-linecap="butt"/>
<text x="0.00" y="0.00" font-size="10.2" text-anchor="end" fill="#000"  transform="translate(307.60 435.48) scale(1.08 1)">20</text>
<line x1="312.00" y1="415.36" x2="316.00" y2="415.36" stroke="#000" stroke-width="1.4" stroke-linecap="butt"/>
<text x="0.00" y="0.00" font-size="10.2" text-anchor="end" fill="#000"  transform="translate(307.60 418.96) scale(1.08 1)">40</text>
<line x1="312.00" y1="398.84" x2="316.00" y2="398.84" stroke="#000" stroke-width="1.4" stroke-linecap="butt"/>
<text x="0.00" y="0.00" font-size="10.2" text-anchor="end" fill="#000"  transform="translate(307.60 402.44) scale(1.08 1)">60</text>
<line x1="312.00" y1="382.32" x2="316.00" y2="382.32" stroke="#000" stroke-width="1.4" stroke-linecap="butt"/>
<text x="0.00" y="0.00" font-size="10.2" text-anchor="end" fill="#000"  transform="translate(307.60 385.92) scale(1.08 1)">80</text>
<line x1="312.00" y1="365.80" x2="316.00" y2="365.80" stroke="#000" stroke-width="1.4" stroke-linecap="butt"/>
<text x="0.00" y="0.00" font-size="10.2" text-anchor="end" fill="#000"  transform="translate(307.60 369.40) scale(1.08 1)">100</text>
<line x1="315.10" y1="448.40" x2="456.10" y2="448.40" stroke="#000" stroke-width="1.8" stroke-linecap="butt"/>
<line x1="316.00" y1="448.40" x2="316.00" y2="452.90" stroke="#000" stroke-width="1.4" stroke-linecap="butt"/>
<text x="0.00" y="0.00" font-size="10" text-anchor="middle" fill="#000"  transform="translate(316.00 465.90) scale(1.1 1)">0</text>
<line x1="343.22" y1="448.40" x2="343.22" y2="452.90" stroke="#000" stroke-width="1.4" stroke-linecap="butt"/>
<text x="0.00" y="0.00" font-size="10" text-anchor="middle" fill="#000"  transform="translate(343.22 465.90) scale(1.1 1)">24</text>
<line x1="370.44" y1="448.40" x2="370.44" y2="452.90" stroke="#000" stroke-width="1.4" stroke-linecap="butt"/>
<text x="0.00" y="0.00" font-size="10" text-anchor="middle" fill="#000"  transform="translate(370.44 465.90) scale(1.1 1)">48</text>
<line x1="397.66" y1="448.40" x2="397.66" y2="452.90" stroke="#000" stroke-width="1.4" stroke-linecap="butt"/>
<text x="0.00" y="0.00" font-size="10" text-anchor="middle" fill="#000"  transform="translate(397.66 465.90) scale(1.1 1)">72</text>
<line x1="424.88" y1="448.40" x2="424.88" y2="452.90" stroke="#000" stroke-width="1.4" stroke-linecap="butt"/>
<text x="0.00" y="0.00" font-size="10" text-anchor="middle" fill="#000"  transform="translate(424.88 465.90) scale(1.1 1)">96</text>
<line x1="452.10" y1="448.40" x2="452.10" y2="452.90" stroke="#000" stroke-width="1.4" stroke-linecap="butt"/>
<text x="0.00" y="0.00" font-size="10" text-anchor="middle" fill="#000"  transform="translate(452.10 465.90) scale(1.1 1)">120</text>
<line x1="343.22" y1="374.06" x2="343.22" y2="387.28" stroke="#b91c3c" stroke-width="1.3" stroke-linecap="butt"/>
<line x1="340.22" y1="374.06" x2="346.22" y2="374.06" stroke="#b91c3c" stroke-width="1.3" stroke-linecap="butt"/>
<line x1="340.22" y1="387.28" x2="346.22" y2="387.28" stroke="#b91c3c" stroke-width="1.3" stroke-linecap="butt"/>
<line x1="370.44" y1="404.62" x2="370.44" y2="416.60" stroke="#b91c3c" stroke-width="1.3" stroke-linecap="butt"/>
<line x1="367.44" y1="404.62" x2="373.44" y2="404.62" stroke="#b91c3c" stroke-width="1.3" stroke-linecap="butt"/>
<line x1="367.44" y1="416.60" x2="373.44" y2="416.60" stroke="#b91c3c" stroke-width="1.3" stroke-linecap="butt"/>
<line x1="424.88" y1="442.62" x2="424.88" y2="445.92" stroke="#b91c3c" stroke-width="1.3" stroke-linecap="butt"/>
<line x1="421.88" y1="442.62" x2="427.88" y2="442.62" stroke="#b91c3c" stroke-width="1.3" stroke-linecap="butt"/>
<line x1="421.88" y1="445.92" x2="427.88" y2="445.92" stroke="#b91c3c" stroke-width="1.3" stroke-linecap="butt"/>
<line x1="452.10" y1="437.66" x2="452.10" y2="445.92" stroke="#b91c3c" stroke-width="1.3" stroke-linecap="butt"/>
<line x1="449.10" y1="437.66" x2="455.10" y2="437.66" stroke="#b91c3c" stroke-width="1.3" stroke-linecap="butt"/>
<line x1="449.10" y1="445.92" x2="455.10" y2="445.92" stroke="#b91c3c" stroke-width="1.3" stroke-linecap="butt"/>
<line x1="343.22" y1="368.28" x2="343.22" y2="374.89" stroke="#33528f" stroke-width="1.3" stroke-linecap="butt"/>
<line x1="340.22" y1="368.28" x2="346.22" y2="368.28" stroke="#33528f" stroke-width="1.3" stroke-linecap="butt"/>
<line x1="340.22" y1="374.89" x2="346.22" y2="374.89" stroke="#33528f" stroke-width="1.3" stroke-linecap="butt"/>
<line x1="370.44" y1="392.23" x2="370.44" y2="397.19" stroke="#33528f" stroke-width="1.3" stroke-linecap="butt"/>
<line x1="367.44" y1="392.23" x2="373.44" y2="392.23" stroke="#33528f" stroke-width="1.3" stroke-linecap="butt"/>
<line x1="367.44" y1="397.19" x2="373.44" y2="397.19" stroke="#33528f" stroke-width="1.3" stroke-linecap="butt"/>
<line x1="397.66" y1="421.97" x2="397.66" y2="426.92" stroke="#33528f" stroke-width="1.3" stroke-linecap="butt"/>
<line x1="394.66" y1="421.97" x2="400.66" y2="421.97" stroke="#33528f" stroke-width="1.3" stroke-linecap="butt"/>
<line x1="394.66" y1="426.92" x2="400.66" y2="426.92" stroke="#33528f" stroke-width="1.3" stroke-linecap="butt"/>
<line x1="424.88" y1="436.01" x2="424.88" y2="442.62" stroke="#33528f" stroke-width="1.3" stroke-linecap="butt"/>
<line x1="421.88" y1="436.01" x2="427.88" y2="436.01" stroke="#33528f" stroke-width="1.3" stroke-linecap="butt"/>
<line x1="421.88" y1="442.62" x2="427.88" y2="442.62" stroke="#33528f" stroke-width="1.3" stroke-linecap="butt"/>
<line x1="452.10" y1="442.62" x2="452.10" y2="445.92" stroke="#33528f" stroke-width="1.3" stroke-linecap="butt"/>
<line x1="449.10" y1="442.62" x2="455.10" y2="442.62" stroke="#33528f" stroke-width="1.3" stroke-linecap="butt"/>
<line x1="449.10" y1="445.92" x2="455.10" y2="445.92" stroke="#33528f" stroke-width="1.3" stroke-linecap="butt"/>
<polyline points="316.00,365.80 343.22,379.02 370.44,410.82 397.66,436.01 424.88,444.27 452.10,442.20" fill="none" stroke="#b91c3c" stroke-width="1.35" stroke-linejoin="round"/>
<polyline points="316.00,365.80 343.22,371.58 370.44,394.71 397.66,424.45 424.88,439.31 452.10,444.27" fill="none" stroke="#33528f" stroke-width="1.35" stroke-linejoin="round"/>
<path d="M316.00 363.10 L318.50 367.60 L313.50 367.60 Z" fill="#b5102e"/>
<path d="M343.22 376.32 L345.72 380.82 L340.72 380.82 Z" fill="#b5102e"/>
<path d="M370.44 408.12 L372.94 412.62 L367.94 412.62 Z" fill="#b5102e"/>
<path d="M397.66 433.31 L400.16 437.81 L395.16 437.81 Z" fill="#b5102e"/>
<path d="M424.88 441.57 L427.38 446.07 L422.38 446.07 Z" fill="#b5102e"/>
<path d="M452.10 439.50 L454.60 444.00 L449.60 444.00 Z" fill="#b5102e"/>
<circle cx="316.00" cy="365.80" r="2.4" fill="#23478a"/>
<circle cx="343.22" cy="371.58" r="2.4" fill="#23478a"/>
<circle cx="370.44" cy="394.71" r="2.4" fill="#23478a"/>
<circle cx="397.66" cy="424.45" r="2.4" fill="#23478a"/>
<circle cx="424.88" cy="439.31" r="2.4" fill="#23478a"/>
<circle cx="452.10" cy="444.27" r="2.4" fill="#23478a"/>
<text x="386.10" y="483.60" font-size="13" text-anchor="middle" fill="#000" textLength="22.20" lengthAdjust="spacingAndGlyphs" stroke="#000" stroke-width="0.35">Hours</text>
<text x="0" y="0" font-size="12.3" text-anchor="middle" textLength="41.30" lengthAdjust="spacingAndGlyphs" stroke="#000" stroke-width="0.3" transform="translate(281.00 403.35) rotate(-90)">% labelled</text>
<line x1="376.20" y1="367.50" x2="400.40" y2="367.50" stroke="#33528f" stroke-width="1.5" stroke-linecap="butt"/>
<circle cx="388.30" cy="367.50" r="2.3" fill="#23478a"/>
<line x1="376.20" y1="383.10" x2="400.40" y2="383.10" stroke="#b91c3c" stroke-width="1.5" stroke-linecap="butt"/>
<path d="M388.30 380.40 L390.80 384.90 L385.80 384.90 Z" fill="#b5102e"/>
<text x="405.00" y="370.70" font-size="10" text-anchor="start" fill="#000" font-style="italic" >Nxf1</text>
<text x="426.50" y="366.90" font-size="8" text-anchor="start" fill="#000" font-style="italic" textLength="11.10" lengthAdjust="spacingAndGlyphs" >+/+</text>
<text x="461.80" y="370.70" font-size="10.5" text-anchor="start" fill="#000" textLength="32.80" lengthAdjust="spacingAndGlyphs" >GFP Tg</text>
<path d="M440.3 367.4 H454" stroke="#000" stroke-width="1.4"/><path d="M449.3 364.3 L457.4 367.4 L449.3 370.5 L451.8 367.4 Z" fill="#000" stroke="#000" stroke-width="0.8" stroke-linejoin="round"/>
<text x="405.00" y="386.20" font-size="10" text-anchor="start" fill="#000" font-style="italic" >Nxf1</text>
<text x="425.80" y="382.40" font-size="7.3" text-anchor="start" fill="#000" font-style="italic" textLength="30.00" lengthAdjust="spacingAndGlyphs" >C587R/+</text>
<text x="476.80" y="386.20" font-size="10.5" text-anchor="start" fill="#000" textLength="33.50" lengthAdjust="spacingAndGlyphs" >GFP Tg</text>
<path d="M459.2 382.8 H469" stroke="#000" stroke-width="1.5"/><path d="M464 379.6 L472 382.8 L464 385.9 L466.4 382.8 Z" fill="#000" stroke="#000" stroke-width="0.8" stroke-linejoin="round"/>
<text x="9.70" y="521.80" font-size="15.2" text-anchor="start" fill="#000" font-weight="bold" stroke="#000" stroke-width="0.5">G</text>
<line x1="75.00" y1="619.10" x2="75.00" y2="528.00" stroke="#000" stroke-width="1.8" stroke-linecap="butt"/>
<line x1="71.00" y1="618.20" x2="75.00" y2="618.20" stroke="#000" stroke-width="1.4" stroke-linecap="butt"/>
<text x="0.00" y="0.00" font-size="10.2" text-anchor="end" fill="#000"  transform="translate(66.60 621.80) scale(1.08 1)">0</text>
<line x1="71.00" y1="601.81" x2="75.00" y2="601.81" stroke="#000" stroke-width="1.4" stroke-linecap="butt"/>
<text x="0.00" y="0.00" font-size="10.2" text-anchor="end" fill="#000"  transform="translate(66.60 605.41) scale(1.08 1)">20</text>
<line x1="71.00" y1="585.42" x2="75.00" y2="585.42" stroke="#000" stroke-width="1.4" stroke-linecap="butt"/>
<text x="0.00" y="0.00" font-size="10.2" text-anchor="end" fill="#000"  transform="translate(66.60 589.02) scale(1.08 1)">40</text>
<line x1="71.00" y1="569.03" x2="75.00" y2="569.03" stroke="#000" stroke-width="1.4" stroke-linecap="butt"/>
<text x="0.00" y="0.00" font-size="10.2" text-anchor="end" fill="#000"  transform="translate(66.60 572.63) scale(1.08 1)">60</text>
<line x1="71.00" y1="552.64" x2="75.00" y2="552.64" stroke="#000" stroke-width="1.4" stroke-linecap="butt"/>
<text x="0.00" y="0.00" font-size="10.2" text-anchor="end" fill="#000"  transform="translate(66.60 556.24) scale(1.08 1)">80</text>
<line x1="71.00" y1="536.25" x2="75.00" y2="536.25" stroke="#000" stroke-width="1.4" stroke-linecap="butt"/>
<text x="0.00" y="0.00" font-size="10.2" text-anchor="end" fill="#000"  transform="translate(66.60 539.85) scale(1.08 1)">100</text>
<line x1="74.10" y1="618.20" x2="214.50" y2="618.20" stroke="#000" stroke-width="1.8" stroke-linecap="butt"/>
<line x1="75.00" y1="618.20" x2="75.00" y2="622.70" stroke="#000" stroke-width="1.4" stroke-linecap="butt"/>
<text x="0" y="0" font-size="10.8" text-anchor="end" transform="translate(81.20 630.60) rotate(-45)">0</text>
<line x1="94.40" y1="618.20" x2="94.40" y2="622.70" stroke="#000" stroke-width="1.4" stroke-linecap="butt"/>
<text x="0" y="0" font-size="10.8" text-anchor="end" transform="translate(100.60 630.60) rotate(-45)">24</text>
<line x1="113.80" y1="618.20" x2="113.80" y2="622.70" stroke="#000" stroke-width="1.4" stroke-linecap="butt"/>
<text x="0" y="0" font-size="10.8" text-anchor="end" transform="translate(120.00 630.60) rotate(-45)">48</text>
<line x1="133.20" y1="618.20" x2="133.20" y2="622.70" stroke="#000" stroke-width="1.4" stroke-linecap="butt"/>
<text x="0" y="0" font-size="10.8" text-anchor="end" transform="translate(139.40 630.60) rotate(-45)">72</text>
<line x1="152.60" y1="618.20" x2="152.60" y2="622.70" stroke="#000" stroke-width="1.4" stroke-linecap="butt"/>
<text x="0" y="0" font-size="10.8" text-anchor="end" transform="translate(158.80 630.60) rotate(-45)">96</text>
<line x1="172.00" y1="618.20" x2="172.00" y2="622.70" stroke="#000" stroke-width="1.4" stroke-linecap="butt"/>
<text x="0" y="0" font-size="10.8" text-anchor="end" transform="translate(178.20 630.60) rotate(-45)">120</text>
<line x1="191.40" y1="618.20" x2="191.40" y2="622.70" stroke="#000" stroke-width="1.4" stroke-linecap="butt"/>
<text x="0" y="0" font-size="10.8" text-anchor="end" transform="translate(197.60 630.60) rotate(-45)">144</text>
<line x1="210.80" y1="618.20" x2="210.80" y2="622.70" stroke="#000" stroke-width="1.4" stroke-linecap="butt"/>
<text x="0" y="0" font-size="10.8" text-anchor="end" transform="translate(217.00 630.60) rotate(-45)">168</text>
<line x1="113.80" y1="561.65" x2="113.80" y2="566.57" stroke="#33528f" stroke-width="1.3" stroke-linecap="butt"/>
<line x1="110.80" y1="561.65" x2="116.80" y2="561.65" stroke="#33528f" stroke-width="1.3" stroke-linecap="butt"/>
<line x1="110.80" y1="566.57" x2="116.80" y2="566.57" stroke="#33528f" stroke-width="1.3" stroke-linecap="butt"/>
<line x1="133.20" y1="580.50" x2="133.20" y2="583.78" stroke="#33528f" stroke-width="1.3" stroke-linecap="butt"/>
<line x1="130.20" y1="580.50" x2="136.20" y2="580.50" stroke="#33528f" stroke-width="1.3" stroke-linecap="butt"/>
<line x1="130.20" y1="583.78" x2="136.20" y2="583.78" stroke="#33528f" stroke-width="1.3" stroke-linecap="butt"/>
<line x1="152.60" y1="591.16" x2="152.60" y2="594.43" stroke="#33528f" stroke-width="1.3" stroke-linecap="butt"/>
<line x1="149.60" y1="591.16" x2="155.60" y2="591.16" stroke="#33528f" stroke-width="1.3" stroke-linecap="butt"/>
<line x1="149.60" y1="594.43" x2="155.60" y2="594.43" stroke="#33528f" stroke-width="1.3" stroke-linecap="butt"/>
<line x1="172.00" y1="600.99" x2="172.00" y2="607.55" stroke="#33528f" stroke-width="1.3" stroke-linecap="butt"/>
<line x1="169.00" y1="600.99" x2="175.00" y2="600.99" stroke="#33528f" stroke-width="1.3" stroke-linecap="butt"/>
<line x1="169.00" y1="607.55" x2="175.00" y2="607.55" stroke="#33528f" stroke-width="1.3" stroke-linecap="butt"/>
<line x1="191.40" y1="611.64" x2="191.40" y2="615.74" stroke="#33528f" stroke-width="1.3" stroke-linecap="butt"/>
<line x1="188.40" y1="611.64" x2="194.40" y2="611.64" stroke="#33528f" stroke-width="1.3" stroke-linecap="butt"/>
<line x1="188.40" y1="615.74" x2="194.40" y2="615.74" stroke="#33528f" stroke-width="1.3" stroke-linecap="butt"/>
<polyline points="75.00,536.25 94.40,550.59 113.80,563.29 133.20,579.68 152.60,591.98 172.00,604.27 191.40,614.10 210.80,616.56" fill="none" stroke="#b91c3c" stroke-width="1.35" stroke-linejoin="round"/>
<polyline points="75.00,536.25 94.40,551.00 113.80,564.11 133.20,582.14 152.60,592.80 172.00,604.27 191.40,613.69 210.80,616.56" fill="none" stroke="#33528f" stroke-width="1.2" stroke-linejoin="round"/>
<path d="M75.00 533.55 L77.50 538.05 L72.50 538.05 Z" fill="#b5102e"/>
<path d="M94.40 547.89 L96.90 552.39 L91.90 552.39 Z" fill="#b5102e"/>
<path d="M113.80 560.59 L116.30 565.09 L111.30 565.09 Z" fill="#b5102e"/>
<path d="M133.20 576.98 L135.70 581.48 L130.70 581.48 Z" fill="#b5102e"/>
<path d="M152.60 589.28 L155.10 593.78 L150.10 593.78 Z" fill="#b5102e"/>
<path d="M172.00 601.57 L174.50 606.07 L169.50 606.07 Z" fill="#b5102e"/>
<path d="M191.40 611.40 L193.90 615.90 L188.90 615.90 Z" fill="#b5102e"/>
<path d="M210.80 613.86 L213.30 618.36 L208.30 618.36 Z" fill="#b5102e"/>
<circle cx="75.00" cy="536.25" r="2.4" fill="#23478a"/>
<circle cx="94.40" cy="551.00" r="2.4" fill="#23478a"/>
<circle cx="113.80" cy="564.11" r="2.4" fill="#23478a"/>
<circle cx="133.20" cy="582.14" r="2.4" fill="#23478a"/>
<circle cx="152.60" cy="592.80" r="2.4" fill="#23478a"/>
<circle cx="172.00" cy="604.27" r="2.4" fill="#23478a"/>
<circle cx="191.40" cy="613.69" r="2.4" fill="#23478a"/>
<circle cx="210.80" cy="616.56" r="2.4" fill="#23478a"/>
<text x="145.00" y="660.60" font-size="13" text-anchor="middle" fill="#000" textLength="22.20" lengthAdjust="spacingAndGlyphs" stroke="#000" stroke-width="0.35">Hours</text>
<text x="0" y="0" font-size="12.3" text-anchor="middle" textLength="41.40" lengthAdjust="spacingAndGlyphs" stroke="#000" stroke-width="0.3" transform="translate(39.70 573.30) rotate(-90)">% labelled</text>
<line x1="113.80" y1="533.20" x2="138.50" y2="533.20" stroke="#33528f" stroke-width="1.5" stroke-linecap="butt"/>
<circle cx="126.15" cy="533.20" r="2.3" fill="#23478a"/>
<line x1="113.80" y1="548.60" x2="138.50" y2="548.60" stroke="#b91c3c" stroke-width="1.5" stroke-linecap="butt"/>
<path d="M126.15 545.90 L128.65 550.40 L123.65 550.40 Z" fill="#b5102e"/>
<text x="143.00" y="536.70" font-size="10" text-anchor="start" fill="#000" font-style="italic" >Bak1</text>
<text x="166.00" y="532.90" font-size="7" text-anchor="start" fill="#000" font-style="italic" textLength="6.20" lengthAdjust="spacingAndGlyphs" >-/-</text>
<text x="177.00" y="536.70" font-size="10" text-anchor="start" fill="#000" font-style="italic" >Nxf1</text>
<text x="197.80" y="532.90" font-size="8" text-anchor="start" fill="#000" font-style="italic" textLength="11.10" lengthAdjust="spacingAndGlyphs" >+/+</text>
<text x="143.00" y="552.10" font-size="10" text-anchor="start" fill="#000" font-style="italic" >Bak1</text>
<text x="166.00" y="548.30" font-size="7" text-anchor="start" fill="#000" font-style="italic" textLength="6.20" lengthAdjust="spacingAndGlyphs" >-/-</text>
<text x="177.00" y="552.10" font-size="10" text-anchor="start" fill="#000" font-style="italic" >Nxf1</text>
<text x="197.80" y="548.30" font-size="7.3" text-anchor="start" fill="#000" font-style="italic" textLength="30.00" lengthAdjust="spacingAndGlyphs" >C587R/+</text>
<text x="246.20" y="521.70" font-size="15.2" text-anchor="start" fill="#000" font-weight="bold" stroke="#000" stroke-width="0.5">H</text>
<line x1="316.40" y1="619.10" x2="316.40" y2="523.30" stroke="#000" stroke-width="1.8" stroke-linecap="butt"/>
<line x1="312.40" y1="618.20" x2="316.40" y2="618.20" stroke="#000" stroke-width="1.4" stroke-linecap="butt"/>
<text x="0.00" y="0.00" font-size="10.2" text-anchor="end" fill="#000"  transform="translate(308.00 621.80) scale(1.08 1)">0</text>
<line x1="312.40" y1="588.07" x2="316.40" y2="588.07" stroke="#000" stroke-width="1.4" stroke-linecap="butt"/>
<text x="0.00" y="0.00" font-size="10.2" text-anchor="end" fill="#000"  transform="translate(308.00 591.67) scale(1.08 1)">1000</text>
<line x1="312.40" y1="557.93" x2="316.40" y2="557.93" stroke="#000" stroke-width="1.4" stroke-linecap="butt"/>
<text x="0.00" y="0.00" font-size="10.2" text-anchor="end" fill="#000"  transform="translate(308.00 561.53) scale(1.08 1)">2000</text>
<line x1="312.40" y1="527.80" x2="316.40" y2="527.80" stroke="#000" stroke-width="1.4" stroke-linecap="butt"/>
<text x="0.00" y="0.00" font-size="10.2" text-anchor="end" fill="#000"  transform="translate(308.00 531.40) scale(1.08 1)">3000</text>
<line x1="315.50" y1="618.20" x2="455.60" y2="618.20" stroke="#000" stroke-width="1.8" stroke-linecap="butt"/>
<line x1="316.40" y1="618.20" x2="316.40" y2="622.70" stroke="#000" stroke-width="1.4" stroke-linecap="butt"/>
<text x="0" y="0" font-size="10.8" text-anchor="end" transform="translate(322.60 630.60) rotate(-45)">0</text>
<line x1="335.79" y1="618.20" x2="335.79" y2="622.70" stroke="#000" stroke-width="1.4" stroke-linecap="butt"/>
<text x="0" y="0" font-size="10.8" text-anchor="end" transform="translate(341.99 630.60) rotate(-45)">24</text>
<line x1="355.17" y1="618.20" x2="355.17" y2="622.70" stroke="#000" stroke-width="1.4" stroke-linecap="butt"/>
<text x="0" y="0" font-size="10.8" text-anchor="end" transform="translate(361.37 630.60) rotate(-45)">48</text>
<line x1="374.56" y1="618.20" x2="374.56" y2="622.70" stroke="#000" stroke-width="1.4" stroke-linecap="butt"/>
<text x="0" y="0" font-size="10.8" text-anchor="end" transform="translate(380.76 630.60) rotate(-45)">72</text>
<line x1="393.94" y1="618.20" x2="393.94" y2="622.70" stroke="#000" stroke-width="1.4" stroke-linecap="butt"/>
<text x="0" y="0" font-size="10.8" text-anchor="end" transform="translate(400.14 630.60) rotate(-45)">96</text>
<line x1="413.33" y1="618.20" x2="413.33" y2="622.70" stroke="#000" stroke-width="1.4" stroke-linecap="butt"/>
<text x="0" y="0" font-size="10.8" text-anchor="end" transform="translate(419.53 630.60) rotate(-45)">120</text>
<line x1="432.71" y1="618.20" x2="432.71" y2="622.70" stroke="#000" stroke-width="1.4" stroke-linecap="butt"/>
<text x="0" y="0" font-size="10.8" text-anchor="end" transform="translate(438.91 630.60) rotate(-45)">144</text>
<line x1="452.10" y1="618.20" x2="452.10" y2="622.70" stroke="#000" stroke-width="1.4" stroke-linecap="butt"/>
<text x="0" y="0" font-size="10.8" text-anchor="end" transform="translate(458.30 630.60) rotate(-45)">168</text>
<line x1="316.40" y1="565.47" x2="316.40" y2="576.01" stroke="#b91c3c" stroke-width="1.3" stroke-linecap="butt"/>
<line x1="313.40" y1="565.47" x2="319.40" y2="565.47" stroke="#b91c3c" stroke-width="1.3" stroke-linecap="butt"/>
<line x1="313.40" y1="576.01" x2="319.40" y2="576.01" stroke="#b91c3c" stroke-width="1.3" stroke-linecap="butt"/>
<line x1="374.56" y1="599.52" x2="374.56" y2="605.54" stroke="#b91c3c" stroke-width="1.3" stroke-linecap="butt"/>
<line x1="371.56" y1="599.52" x2="377.56" y2="599.52" stroke="#b91c3c" stroke-width="1.3" stroke-linecap="butt"/>
<line x1="371.56" y1="605.54" x2="377.56" y2="605.54" stroke="#b91c3c" stroke-width="1.3" stroke-linecap="butt"/>
<line x1="413.33" y1="568.48" x2="413.33" y2="576.62" stroke="#b91c3c" stroke-width="1.3" stroke-linecap="butt"/>
<line x1="410.33" y1="568.48" x2="416.33" y2="568.48" stroke="#b91c3c" stroke-width="1.3" stroke-linecap="butt"/>
<line x1="410.33" y1="576.62" x2="416.33" y2="576.62" stroke="#b91c3c" stroke-width="1.3" stroke-linecap="butt"/>
<line x1="452.10" y1="557.93" x2="452.10" y2="569.99" stroke="#b91c3c" stroke-width="1.3" stroke-linecap="butt"/>
<line x1="449.10" y1="557.93" x2="455.10" y2="557.93" stroke="#b91c3c" stroke-width="1.3" stroke-linecap="butt"/>
<line x1="449.10" y1="569.99" x2="455.10" y2="569.99" stroke="#b91c3c" stroke-width="1.3" stroke-linecap="butt"/>
<line x1="316.40" y1="548.89" x2="316.40" y2="571.49" stroke="#33528f" stroke-width="1.3" stroke-linecap="butt"/>
<line x1="313.40" y1="548.89" x2="319.40" y2="548.89" stroke="#33528f" stroke-width="1.3" stroke-linecap="butt"/>
<line x1="313.40" y1="571.49" x2="319.40" y2="571.49" stroke="#33528f" stroke-width="1.3" stroke-linecap="butt"/>
<line x1="374.56" y1="591.08" x2="374.56" y2="603.13" stroke="#33528f" stroke-width="1.3" stroke-linecap="butt"/>
<line x1="371.56" y1="591.08" x2="377.56" y2="591.08" stroke="#33528f" stroke-width="1.3" stroke-linecap="butt"/>
<line x1="371.56" y1="603.13" x2="377.56" y2="603.13" stroke="#33528f" stroke-width="1.3" stroke-linecap="butt"/>
<line x1="413.33" y1="556.13" x2="413.33" y2="572.10" stroke="#33528f" stroke-width="1.3" stroke-linecap="butt"/>
<line x1="410.33" y1="556.13" x2="416.33" y2="556.13" stroke="#33528f" stroke-width="1.3" stroke-linecap="butt"/>
<line x1="410.33" y1="572.10" x2="416.33" y2="572.10" stroke="#33528f" stroke-width="1.3" stroke-linecap="butt"/>
<line x1="452.10" y1="530.81" x2="452.10" y2="559.44" stroke="#33528f" stroke-width="1.3" stroke-linecap="butt"/>
<line x1="449.10" y1="530.81" x2="455.10" y2="530.81" stroke="#33528f" stroke-width="1.3" stroke-linecap="butt"/>
<line x1="449.10" y1="559.44" x2="455.10" y2="559.44" stroke="#33528f" stroke-width="1.3" stroke-linecap="butt"/>
<polyline points="316.40,573.00 335.79,615.79 374.56,603.13 413.33,572.70 452.10,564.26" fill="none" stroke="#b91c3c" stroke-width="1.35" stroke-linejoin="round"/>
<polyline points="316.40,559.44 335.79,614.28 374.56,598.01 413.33,565.47 452.10,545.28" fill="none" stroke="#33528f" stroke-width="1.35" stroke-linejoin="round"/>
<path d="M316.40 570.30 L318.90 574.80 L313.90 574.80 Z" fill="#b5102e"/>
<path d="M335.79 613.09 L338.29 617.59 L333.29 617.59 Z" fill="#b5102e"/>
<path d="M374.56 600.43 L377.06 604.93 L372.06 604.93 Z" fill="#b5102e"/>
<path d="M413.33 570.00 L415.83 574.50 L410.83 574.50 Z" fill="#b5102e"/>
<path d="M452.10 561.56 L454.60 566.06 L449.60 566.06 Z" fill="#b5102e"/>
<circle cx="316.40" cy="559.44" r="2.4" fill="#23478a"/>
<circle cx="335.79" cy="614.28" r="2.4" fill="#23478a"/>
<circle cx="374.56" cy="598.01" r="2.4" fill="#23478a"/>
<circle cx="413.33" cy="565.47" r="2.4" fill="#23478a"/>
<circle cx="452.10" cy="545.28" r="2.4" fill="#23478a"/>
<text x="386.10" y="660.60" font-size="13" text-anchor="middle" fill="#000" textLength="22.20" lengthAdjust="spacingAndGlyphs" stroke="#000" stroke-width="0.35">Hours</text>
<text x="0" y="0" font-size="12.3" text-anchor="middle" textLength="65.30" lengthAdjust="spacingAndGlyphs" stroke="#000" stroke-width="0.3" transform="translate(269.80 571.55) rotate(-90)">Platelet (10<tspan font-size="9.5" dy="-4.8">3</tspan><tspan dy="4.8">/μl)</tspan></text>
<line x1="324.50" y1="534.00" x2="347.90" y2="534.00" stroke="#33528f" stroke-width="1.5" stroke-linecap="butt"/>
<circle cx="336.20" cy="534.00" r="2.3" fill="#23478a"/>
<line x1="324.50" y1="548.80" x2="347.90" y2="548.80" stroke="#b91c3c" stroke-width="1.5" stroke-linecap="butt"/>
<path d="M336.20 546.10 L338.70 550.60 L333.70 550.60 Z" fill="#b5102e"/>
<text x="353.30" y="537.50" font-size="10" text-anchor="start" fill="#000" font-style="italic" >Bak1</text>
<text x="376.30" y="533.70" font-size="7" text-anchor="start" fill="#000" font-style="italic" textLength="6.20" lengthAdjust="spacingAndGlyphs" >-/-</text>
<text x="387.30" y="537.50" font-size="10" text-anchor="start" fill="#000" font-style="italic" >Nxf1</text>
<text x="408.10" y="533.70" font-size="8" text-anchor="start" fill="#000" font-style="italic" textLength="11.10" lengthAdjust="spacingAndGlyphs" >+/+</text>
<text x="353.30" y="552.30" font-size="10" text-anchor="start" fill="#000" font-style="italic" >Bak1</text>
<text x="376.30" y="548.50" font-size="7" text-anchor="start" fill="#000" font-style="italic" textLength="6.20" lengthAdjust="spacingAndGlyphs" >-/-</text>
<text x="387.30" y="552.30" font-size="10" text-anchor="start" fill="#000" font-style="italic" >Nxf1</text>
<text x="408.10" y="548.50" font-size="7.3" text-anchor="start" fill="#000" font-style="italic" textLength="30.00" lengthAdjust="spacingAndGlyphs" >C587R/+</text>
<text x="9.70" y="698.30" font-size="15.2" text-anchor="start" fill="#000" font-weight="bold" stroke="#000" stroke-width="0.5">I</text>
<line x1="74.90" y1="806.30" x2="74.90" y2="712.00" stroke="#000" stroke-width="1.8" stroke-linecap="butt"/>
<line x1="70.90" y1="805.40" x2="74.90" y2="805.40" stroke="#000" stroke-width="1.4" stroke-linecap="butt"/>
<text x="0.00" y="0.00" font-size="10.2" text-anchor="end" fill="#000"  transform="translate(66.50 809.00) scale(1.08 1)">0</text>
<line x1="70.90" y1="782.92" x2="74.90" y2="782.92" stroke="#000" stroke-width="1.4" stroke-linecap="butt"/>
<text x="0.00" y="0.00" font-size="10.2" text-anchor="end" fill="#000"  transform="translate(66.50 786.52) scale(1.08 1)">500</text>
<line x1="70.90" y1="760.45" x2="74.90" y2="760.45" stroke="#000" stroke-width="1.4" stroke-linecap="butt"/>
<text x="0.00" y="0.00" font-size="10.2" text-anchor="end" fill="#000"  transform="translate(66.50 764.05) scale(1.08 1)">1000</text>
<line x1="70.90" y1="737.98" x2="74.90" y2="737.98" stroke="#000" stroke-width="1.4" stroke-linecap="butt"/>
<text x="0.00" y="0.00" font-size="10.2" text-anchor="end" fill="#000"  transform="translate(66.50 741.58) scale(1.08 1)">1500</text>
<line x1="70.90" y1="715.50" x2="74.90" y2="715.50" stroke="#000" stroke-width="1.4" stroke-linecap="butt"/>
<text x="0.00" y="0.00" font-size="10.2" text-anchor="end" fill="#000"  transform="translate(66.50 719.10) scale(1.08 1)">2000</text>
<line x1="74.00" y1="805.40" x2="147.80" y2="805.40" stroke="#000" stroke-width="1.8" stroke-linecap="butt"/>
<line x1="91.50" y1="805.40" x2="91.50" y2="809.90" stroke="#000" stroke-width="1.4" stroke-linecap="butt"/>
<line x1="129.70" y1="805.40" x2="129.70" y2="809.90" stroke="#000" stroke-width="1.4" stroke-linecap="butt"/>
<rect x="80" y="730" width="23" height="75.80" fill="#8f99bf"/>
<rect x="118.3" y="750.8" width="22.9" height="55.00" fill="#d08b80"/>
<circle cx="84.70" cy="721.60" r="2.5" fill="#23478a"/>
<circle cx="91.90" cy="725.30" r="2.5" fill="#23478a"/>
<circle cx="102.00" cy="723.50" r="2.5" fill="#23478a"/>
<circle cx="84.70" cy="730.30" r="2.5" fill="#23478a"/>
<circle cx="98.40" cy="729.90" r="2.5" fill="#23478a"/>
<circle cx="91.90" cy="733.20" r="2.5" fill="#23478a"/>
<circle cx="91.90" cy="747.20" r="2.5" fill="#23478a"/>
<line x1="91.90" y1="721.60" x2="91.90" y2="738.70" stroke="#000" stroke-width="1.5" stroke-linecap="butt"/>
<line x1="86.40" y1="721.60" x2="97.40" y2="721.60" stroke="#000" stroke-width="1.5" stroke-linecap="butt"/>
<line x1="86.40" y1="738.70" x2="97.40" y2="738.70" stroke="#000" stroke-width="1.5" stroke-linecap="butt"/>
<path d="M129.50 742.80 L132.00 747.30 L127.00 747.30 Z" fill="#b5102e"/>
<path d="M125.50 748.30 L128.00 752.80 L123.00 752.80 Z" fill="#b5102e"/>
<path d="M134.90 747.80 L137.40 752.30 L132.40 752.30 Z" fill="#b5102e"/>
<path d="M128.40 752.90 L130.90 757.40 L125.90 757.40 Z" fill="#b5102e"/>
<path d="M131.00 750.30 L133.50 754.80 L128.50 754.80 Z" fill="#b5102e"/>
<line x1="129.50" y1="747.30" x2="129.50" y2="754.50" stroke="#000" stroke-width="1.5" stroke-linecap="butt"/>
<line x1="124.50" y1="747.30" x2="134.50" y2="747.30" stroke="#000" stroke-width="1.5" stroke-linecap="butt"/>
<line x1="124.50" y1="754.50" x2="134.50" y2="754.50" stroke="#000" stroke-width="1.5" stroke-linecap="butt"/>
<line x1="92.00" y1="708.40" x2="130.60" y2="708.40" stroke="#000" stroke-width="1.5" stroke-linecap="butt"/>
<text x="111.20" y="708.80" font-size="9.5" text-anchor="middle" fill="#000" stroke="#000" stroke-width="0.2">***</text>
<text x="73.60" y="823.40" font-size="10.5" text-anchor="end" fill="#000" font-style="italic" >Nxf1</text>
<text x="91.50" y="823.40" font-size="11.5" text-anchor="middle" fill="#000" >+/+</text>
<text x="107.20" y="823.40" font-size="10.5" text-anchor="start" fill="#000" font-style="italic" textLength="44.80" lengthAdjust="spacingAndGlyphs" >C587R/+</text>
<text x="73.60" y="839.40" font-size="10.5" text-anchor="end" fill="#000" font-style="italic" >Bak1</text>
<text x="91.50" y="839.40" font-size="10.5" text-anchor="middle" fill="#000" font-style="italic" >-/-</text>
<text x="130.00" y="839.40" font-size="10.5" text-anchor="middle" fill="#000" font-style="italic" >-/-</text>
<text x="0" y="0" font-size="12.3" text-anchor="middle" textLength="69.75" lengthAdjust="spacingAndGlyphs" stroke="#000" stroke-width="0.3" transform="translate(33.30 759.12) rotate(-90)">Platelet (x10<tspan font-size="9.5" dy="-4.8">3</tspan><tspan dy="4.8">/μl)</tspan></text>
<text x="172.20" y="698.30" font-size="15.2" text-anchor="start" fill="#000" font-weight="bold" stroke="#000" stroke-width="0.5">J</text>
<line x1="248.90" y1="806.30" x2="248.90" y2="711.50" stroke="#000" stroke-width="1.8" stroke-linecap="butt"/>
<line x1="244.90" y1="805.40" x2="248.90" y2="805.40" stroke="#000" stroke-width="1.4" stroke-linecap="butt"/>
<text x="0.00" y="0.00" font-size="10.2" text-anchor="end" fill="#000"  transform="translate(240.50 809.00) scale(1.08 1)">0</text>
<line x1="244.90" y1="782.75" x2="248.90" y2="782.75" stroke="#000" stroke-width="1.4" stroke-linecap="butt"/>
<text x="0.00" y="0.00" font-size="10.2" text-anchor="end" fill="#000"  transform="translate(240.50 786.35) scale(1.08 1)">20</text>
<line x1="244.90" y1="760.10" x2="248.90" y2="760.10" stroke="#000" stroke-width="1.4" stroke-linecap="butt"/>
<text x="0.00" y="0.00" font-size="10.2" text-anchor="end" fill="#000"  transform="translate(240.50 763.70) scale(1.08 1)">40</text>
<line x1="244.90" y1="737.45" x2="248.90" y2="737.45" stroke="#000" stroke-width="1.4" stroke-linecap="butt"/>
<text x="0.00" y="0.00" font-size="10.2" text-anchor="end" fill="#000"  transform="translate(240.50 741.05) scale(1.08 1)">60</text>
<line x1="244.90" y1="714.80" x2="248.90" y2="714.80" stroke="#000" stroke-width="1.4" stroke-linecap="butt"/>
<text x="0.00" y="0.00" font-size="10.2" text-anchor="end" fill="#000"  transform="translate(240.50 718.40) scale(1.08 1)">80</text>
<line x1="248.00" y1="805.40" x2="322.00" y2="805.40" stroke="#000" stroke-width="1.8" stroke-linecap="butt"/>
<line x1="265.80" y1="805.40" x2="265.80" y2="809.90" stroke="#000" stroke-width="1.4" stroke-linecap="butt"/>
<line x1="304.00" y1="805.40" x2="304.00" y2="809.90" stroke="#000" stroke-width="1.4" stroke-linecap="butt"/>
<rect x="254.3" y="744.6" width="22.6" height="61.20" fill="#8f99bf"/>
<rect x="292.6" y="745.9" width="22.2" height="59.90" fill="#d08b80"/>
<circle cx="265.50" cy="729.20" r="2.5" fill="#23478a"/>
<circle cx="255.10" cy="744.20" r="2.5" fill="#23478a"/>
<circle cx="258.70" cy="745.60" r="2.5" fill="#23478a"/>
<circle cx="265.50" cy="744.50" r="2.5" fill="#23478a"/>
<circle cx="272.50" cy="742.60" r="2.5" fill="#23478a"/>
<circle cx="272.60" cy="750.30" r="2.5" fill="#23478a"/>
<circle cx="265.50" cy="753.00" r="2.5" fill="#23478a"/>
<line x1="265.50" y1="736.60" x2="265.50" y2="751.60" stroke="#000" stroke-width="1.5" stroke-linecap="butt"/>
<line x1="260.00" y1="736.60" x2="271.00" y2="736.60" stroke="#000" stroke-width="1.5" stroke-linecap="butt"/>
<line x1="260.00" y1="751.60" x2="271.00" y2="751.60" stroke="#000" stroke-width="1.5" stroke-linecap="butt"/>
<path d="M294.80 735.80 L297.30 740.30 L292.30 740.30 Z" fill="#b5102e"/>
<path d="M312.20 738.80 L314.70 743.30 L309.70 743.30 Z" fill="#b5102e"/>
<path d="M300.50 741.50 L303.00 746.00 L298.00 746.00 Z" fill="#b5102e"/>
<path d="M306.50 742.50 L309.00 747.00 L304.00 747.00 Z" fill="#b5102e"/>
<path d="M296.40 747.50 L298.90 752.00 L293.90 752.00 Z" fill="#b5102e"/>
<path d="M310.60 747.50 L313.10 752.00 L308.10 752.00 Z" fill="#b5102e"/>
<path d="M303.60 750.20 L306.10 754.70 L301.10 754.70 Z" fill="#b5102e"/>
<line x1="303.60" y1="739.90" x2="303.60" y2="750.30" stroke="#000" stroke-width="1.5" stroke-linecap="butt"/>
<line x1="298.10" y1="739.90" x2="309.10" y2="739.90" stroke="#000" stroke-width="1.5" stroke-linecap="butt"/>
<line x1="298.10" y1="750.30" x2="309.10" y2="750.30" stroke="#000" stroke-width="1.5" stroke-linecap="butt"/>
<text x="248.50" y="823.40" font-size="10.5" text-anchor="end" fill="#000" font-style="italic" >Nxf1</text>
<text x="265.80" y="823.40" font-size="11.5" text-anchor="middle" fill="#000" >+/+</text>
<text x="281.10" y="823.40" font-size="10.5" text-anchor="start" fill="#000" font-style="italic" textLength="45.20" lengthAdjust="spacingAndGlyphs" >C587R/+</text>
<text x="248.50" y="839.40" font-size="10.5" text-anchor="end" fill="#000" font-style="italic" >Bak1</text>
<text x="265.80" y="839.40" font-size="10.5" text-anchor="middle" fill="#000" font-style="italic" >-/-</text>
<text x="304.00" y="839.40" font-size="10.5" text-anchor="middle" fill="#000" font-style="italic" >-/-</text>
<text x="0" y="0" font-size="12.5" text-anchor="middle" textLength="43.10" lengthAdjust="spacingAndGlyphs" stroke="#000" stroke-width="0.3" transform="translate(190.80 758.05) rotate(-90)">Reticulated</text>
<text x="0" y="0" font-size="12.5" text-anchor="middle" textLength="46.90" lengthAdjust="spacingAndGlyphs" stroke="#000" stroke-width="0.3" transform="translate(204.50 758.65) rotate(-90)">TO<tspan font-size="9" dy="-4.5">+</tspan><tspan dy="4.5"> platelet</tspan></text>
<text x="0" y="0" font-size="12.5" text-anchor="middle" textLength="36.20" lengthAdjust="spacingAndGlyphs" stroke="#000" stroke-width="0.3" transform="translate(220.00 758.40) rotate(-90)">(x10<tspan font-size="9.5" dy="-5">3</tspan><tspan dy="5">/μl)</tspan></text>
<text x="346.20" y="698.30" font-size="15.2" text-anchor="start" fill="#000" font-weight="bold" stroke="#000" stroke-width="0.5">K</text>
<line x1="416.30" y1="806.50" x2="416.30" y2="716.20" stroke="#000" stroke-width="1.8" stroke-linecap="butt"/>
<line x1="412.30" y1="805.60" x2="416.30" y2="805.60" stroke="#000" stroke-width="1.4" stroke-linecap="butt"/>
<text x="0.00" y="0.00" font-size="10.2" text-anchor="end" fill="#000"  transform="translate(407.90 809.20) scale(1.08 1)">0</text>
<line x1="412.30" y1="770.95" x2="416.30" y2="770.95" stroke="#000" stroke-width="1.4" stroke-linecap="butt"/>
<text x="0.00" y="0.00" font-size="10.2" text-anchor="end" fill="#000"  transform="translate(407.90 774.55) scale(1.08 1)">1000</text>
<line x1="412.30" y1="736.30" x2="416.30" y2="736.30" stroke="#000" stroke-width="1.4" stroke-linecap="butt"/>
<text x="0.00" y="0.00" font-size="10.2" text-anchor="end" fill="#000"  transform="translate(407.90 739.90) scale(1.08 1)">2000</text>
<line x1="415.40" y1="805.60" x2="488.80" y2="805.60" stroke="#000" stroke-width="1.8" stroke-linecap="butt"/>
<line x1="432.80" y1="805.60" x2="432.80" y2="810.10" stroke="#000" stroke-width="1.4" stroke-linecap="butt"/>
<line x1="470.80" y1="805.60" x2="470.80" y2="810.10" stroke="#000" stroke-width="1.4" stroke-linecap="butt"/>
<rect x="421.3" y="739" width="22.5" height="66.80" fill="#8f99bf"/>
<rect x="459.4" y="756.3" width="23.2" height="49.50" fill="#d08b80"/>
<circle cx="432.70" cy="718.00" r="2.5" fill="#23478a"/>
<circle cx="441.40" cy="728.60" r="2.5" fill="#23478a"/>
<circle cx="423.90" cy="732.20" r="2.5" fill="#23478a"/>
<circle cx="429.70" cy="733.90" r="2.5" fill="#23478a"/>
<circle cx="435.60" cy="732.80" r="2.5" fill="#23478a"/>
<circle cx="423.90" cy="746.90" r="2.5" fill="#23478a"/>
<circle cx="432.70" cy="745.00" r="2.5" fill="#23478a"/>
<circle cx="441.40" cy="745.90" r="2.5" fill="#23478a"/>
<circle cx="429.70" cy="752.70" r="2.5" fill="#23478a"/>
<circle cx="435.60" cy="751.50" r="2.5" fill="#23478a"/>
<line x1="432.60" y1="727.40" x2="432.60" y2="750.10" stroke="#000" stroke-width="1.5" stroke-linecap="butt"/>
<line x1="427.10" y1="727.40" x2="438.10" y2="727.40" stroke="#000" stroke-width="1.5" stroke-linecap="butt"/>
<line x1="427.10" y1="750.10" x2="438.10" y2="750.10" stroke="#000" stroke-width="1.5" stroke-linecap="butt"/>
<path d="M467.70 737.50 L470.20 742.00 L465.20 742.00 Z" fill="#b5102e"/>
<path d="M474.20 733.20 L476.70 737.70 L471.70 737.70 Z" fill="#b5102e"/>
<path d="M470.60 749.80 L473.10 754.30 L468.10 754.30 Z" fill="#b5102e"/>
<path d="M462.60 757.00 L465.10 761.50 L460.10 761.50 Z" fill="#b5102e"/>
<path d="M465.50 759.10 L468.00 763.60 L463.00 763.60 Z" fill="#b5102e"/>
<path d="M468.40 761.30 L470.90 765.80 L465.90 765.80 Z" fill="#b5102e"/>
<path d="M475.60 759.80 L478.10 764.30 L473.10 764.30 Z" fill="#b5102e"/>
<path d="M478.50 757.00 L481.00 761.50 L476.00 761.50 Z" fill="#b5102e"/>
<path d="M472.70 762.00 L475.20 766.50 L470.20 766.50 Z" fill="#b5102e"/>
<line x1="470.60" y1="745.50" x2="470.60" y2="766.40" stroke="#000" stroke-width="1.5" stroke-linecap="butt"/>
<line x1="465.10" y1="745.50" x2="476.10" y2="745.50" stroke="#000" stroke-width="1.5" stroke-linecap="butt"/>
<line x1="465.10" y1="766.40" x2="476.10" y2="766.40" stroke="#000" stroke-width="1.5" stroke-linecap="butt"/>
<line x1="434.00" y1="707.90" x2="473.20" y2="707.90" stroke="#000" stroke-width="1.5" stroke-linecap="butt"/>
<text x="453.40" y="708.80" font-size="9.5" text-anchor="middle" fill="#000" stroke="#000" stroke-width="0.2">**</text>
<text x="414.40" y="823.40" font-size="10.5" text-anchor="end" fill="#000" font-style="italic" >Nxf1</text>
<text x="432.80" y="823.40" font-size="11.5" text-anchor="middle" fill="#000" >+/+</text>
<text x="448.00" y="823.40" font-size="10.5" text-anchor="start" fill="#000" font-style="italic" textLength="44.30" lengthAdjust="spacingAndGlyphs" >C587R/+</text>
<text x="414.40" y="839.40" font-size="10.5" text-anchor="end" fill="#000" font-style="italic" >Bak1</text>
<text x="432.80" y="839.40" font-size="10.5" text-anchor="middle" fill="#000" font-style="italic" >-/-</text>
<text x="470.80" y="839.40" font-size="10.5" text-anchor="middle" fill="#000" font-style="italic" >-/-</text>
<text x="0" y="0" font-size="12.3" text-anchor="middle" textLength="69.50" lengthAdjust="spacingAndGlyphs" stroke="#000" stroke-width="0.3" transform="translate(375.30 761.15) rotate(-90)">Platelet (x10<tspan font-size="9.5" dy="-4.8">3</tspan><tspan dy="4.8">/μl)</tspan></text>
<rect x="0.9" y="0.9" width="518.2" height="850.2" fill="none" stroke="#000" stroke-width="1.8"/>
</svg>
</body></html>
